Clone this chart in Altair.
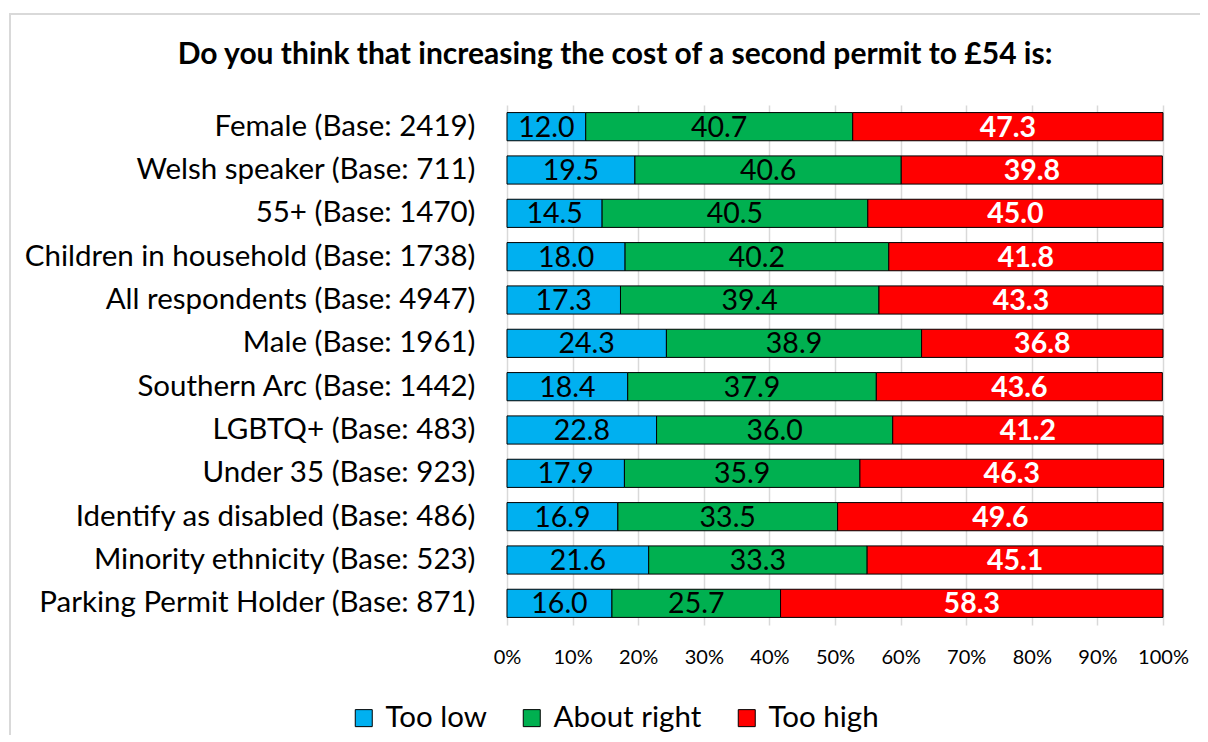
import altair as alt
import pandas as pd

groups = [
    "Female (Base: 2419)",
    "Welsh speaker (Base: 711)",
    "55+ (Base: 1470)",
    "Children in household (Base: 1738)",
    "All respondents (Base: 4947)",
    "Male (Base: 1961)",
    "Southern Arc (Base: 1442)",
    "LGBTQ+ (Base: 483)",
    "Under 35 (Base: 923)",
    "Identify as disabled (Base: 486)",
    "Minority ethnicity (Base: 523)",
    "Parking Permit Holder (Base: 871)",
]
too_low = [12.0, 19.5, 14.5, 18.0, 17.3, 24.3, 18.4, 22.8, 17.9, 16.9, 21.6, 16.0]
about_right = [40.7, 40.6, 40.5, 40.2, 39.4, 38.9, 37.9, 36.0, 35.9, 33.5, 33.3, 25.7]
too_high = [47.3, 39.8, 45.0, 41.8, 43.3, 36.8, 43.6, 41.2, 46.3, 49.6, 45.1, 58.3]
responses = ["Too low", "About right", "Too high"]
colors = ["#00B0F0", "#00B050", "#FF0000"]
x_ticks = [0, 10, 20, 30, 40, 50, 60, 70, 80, 90, 100]
title_text = "Do you think that increasing the cost of a second permit to £54 is:"

rows = []
for i, g in enumerate(groups):
    for j, (r, vals) in enumerate(zip(responses, [too_low, about_right, too_high])):
        rows.append({"group": g, "response": r, "order": j, "value": vals[i]})
df = pd.DataFrame(rows)

FONT = "Lato"

base = alt.Chart(df).transform_stack(
    stack="value", as_=["x0", "x1"], groupby=["group"],
    sort=[alt.SortField("order", order="ascending")]
).transform_calculate(mid="(datum.x0 + datum.x1) / 2")

y_enc = alt.Y("group:N", sort=groups, title=None,
              scale=alt.Scale(paddingInner=0.35, paddingOuter=0.175),
              axis=alt.Axis(domain=False, ticks=False, labelFontSize=29.5,
                            labelFont=FONT, labelColor="black", labelPadding=32,
                            labelLimit=600))

bars = base.mark_bar(stroke="black", strokeWidth=1).encode(
    x=alt.X("x0:Q", scale=alt.Scale(domain=[0, 100]), title=None,
            axis=alt.Axis(values=x_ticks, labelExpr="datum.value + '%'",
                          domain=False, ticks=False, grid=True,
                          gridColor="#d9d9d9", gridWidth=1.5,
                          labelOverlap=False, labelFlush=False,
                          labelFontSize=20, labelFont=FONT, labelColor="black",
                          labelPadding=22)),
    x2="x1:Q",
    y=y_enc,
    color=alt.Color("response:N", sort=responses,
                    scale=alt.Scale(domain=responses, range=colors),
                    legend=alt.Legend(title=None, orient="none", direction="horizontal",
                                      legendX=-158, legendY=598,
                                      symbolType="square", symbolSize=289,
                                      symbolStrokeColor="black", symbolStrokeWidth=1,
                                      labelFontSize=29.5, labelFont=FONT, labelColor="black",
                                      labelOffset=7, columnPadding=30)),
)

text_dark = base.transform_filter("datum.response != 'Too high'").mark_text(
    fontSize=28.5, font=FONT, color="black", baseline="middle", dy=1
).encode(
    x=alt.X("mid:Q"), y=alt.Y("group:N", sort=groups),
    text=alt.Text("value:Q", format=".1f"),
)
text_light = base.transform_filter("datum.response == 'Too high'").mark_text(
    fontSize=28.5, font=FONT, color="white", fontWeight="bold", baseline="middle", dy=1
).encode(
    x=alt.X("mid:Q"), y=alt.Y("group:N", sort=groups),
    text=alt.Text("value:Q", format=".1f"),
)

border = alt.Chart(pd.DataFrame({"a": [0]})).mark_rect(
    fill=None, stroke="#d9d9d9", strokeWidth=2
).encode(x=alt.value(-497), x2=alt.value(720), y=alt.value(-91), y2=alt.value(660))

chart = alt.layer(border, bars, text_dark, text_light).properties(
    width=656, height=520,
    title=alt.Title(title_text, anchor="middle", frame="group", dx=-220, offset=-57,
                    fontSize=30, font=FONT, fontWeight="bold", color="black"),
    autosize=alt.AutoSizeParams(type="none"),
    padding={"left": 499, "top": 97, "right": 37, "bottom": 110},
).configure_view(stroke=None)

chart.save("out.html", embed_options={"renderer": "svg", "actions": False})
